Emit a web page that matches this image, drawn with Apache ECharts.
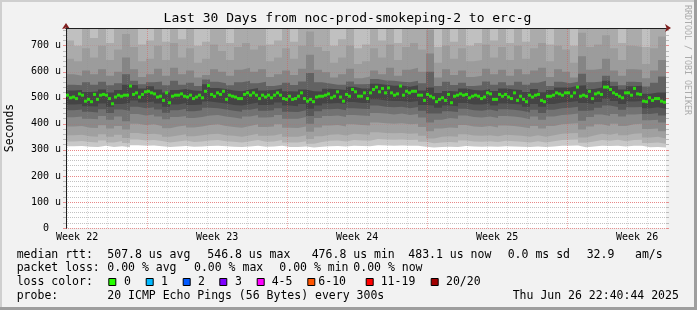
<!DOCTYPE html>
<html><head><meta charset="utf-8">
<script src="https://cdn.jsdelivr.net/npm/echarts@6/dist/echarts.min.js"></script>
<style>html,body{margin:0;padding:0;background:#f2f2f2}#c{width:697px;height:310px}</style>
</head><body><div id="c"></div>
<script>
// time axis in days since May 27 00:00
const startDay = 0.944954;   // May 27 22:40:44
const endDay = 30.944954;    // Jun 26 22:40:44
const medianStepDays = 0.15;
const smokeStepDays = 0.4;

// median rtt (us)
const median = [
510,500,503,497,515,510,487,494,485,513,
494,510,513,510,497,477,503,510,506,510,
510,545,513,519,503,513,523,525,519,515,
503,506,490,519,481,506,510,510,515,506,
503,510,497,503,510,500,525,547,513,506,
519,513,525,494,510,506,503,497,497,513,
519,510,519,510,497,510,503,510,500,510,
519,510,497,494,506,494,497,506,519,497,
487,494,485,503,506,506,510,515,500,506,
523,503,487,513,506,532,523,506,506,519,
497,519,532,541,523,536,519,538,519,510,
515,545,510,525,519,525,525,510,510,490,
513,506,500,485,494,500,490,513,481,506,
510,515,510,513,500,506,510,506,497,503,
519,515,494,494,513,506,513,503,497,519,
490,506,494,485,510,503,510,513,490,485,
506,506,510,519,515,510,519,519,506,519,
541,506,510,506,525,497,515,519,513,541,
541,532,519,513,506,500,519,519,510,536,
515,513,487,485,500,490,497,497,487,483];

// smoke band boundaries (us), one value per 0.4-day column, lowest to highest
const smokeB1 = [314,315,312,311,316,311,314,310,318,316,317,314,311,313,315,312,313,315,316,314,312,311,313,316,312,313,316,311,311,313,309,312,314,315,313,316,315,314,318,317,316,317,316,316,312,309,311,312,311,315,313,312,313,312,314,313,312,311,313,311,313,316,316,317,310,313,316,315,316,313,316,316,310,311,309];
const smokeB2 = [332,334,330,328,336,328,334,326,340,336,338,334,328,332,336,330,332,336,338,333,331,328,333,338,331,332,338,328,328,333,324,330,335,336,332,338,336,335,342,340,339,340,338,339,331,325,328,330,328,336,332,331,333,330,335,333,331,328,333,328,333,338,339,340,327,332,338,335,339,333,338,339,326,328,324];
const smokeB3 = [356,358,352,350,360,350,358,346,365,360,362,358,350,355,360,352,356,360,362,356,354,350,356,362,354,355,362,350,350,356,342,352,358,360,355,362,360,358,368,365,364,365,362,364,354,344,350,352,350,360,355,354,356,352,358,356,354,350,356,350,356,362,364,365,348,355,362,358,364,356,362,364,348,350,344];
const smokeB4 = [390,392,385,384,395,382,392,378,400,396,398,392,383,390,394,386,390,396,398,392,388,385,392,398,388,390,398,385,384,390,370,386,394,396,390,398,396,394,405,402,400,402,398,400,388,372,382,386,384,396,390,388,392,386,394,392,388,383,392,382,392,398,400,402,378,390,398,392,400,392,398,400,380,382,372];
const smokeB5 = [425,428,420,418,430,416,428,410,438,432,436,428,418,426,430,422,426,432,434,428,424,420,428,434,424,426,434,420,420,426,400,422,430,432,426,434,432,430,442,440,436,440,434,438,424,405,416,422,420,432,426,424,428,422,430,428,424,418,428,416,428,434,436,440,412,426,436,430,438,428,436,438,414,416,405];
const smokeB6 = [452,455,446,444,456,442,455,450,466,460,464,455,443,452,458,448,452,462,460,455,450,446,454,460,450,452,460,446,445,452,430,448,456,458,452,460,458,457,470,466,464,466,460,465,450,440,440,448,445,458,452,450,455,448,456,454,450,444,454,442,454,460,462,466,450,452,462,470,465,454,464,465,438,442,432];
const smokeB7 = [474,476,468,467,478,466,476,480,490,482,486,478,466,474,480,472,474,486,482,478,472,470,476,482,472,474,482,470,468,476,458,470,478,480,476,484,480,480,494,490,488,488,484,488,472,470,462,470,468,480,474,474,478,470,478,476,474,466,476,466,476,482,484,488,480,476,484,496,488,476,486,488,460,464,458];
const smokeB8 = [528,530,522,524,532,520,530,550,548,536,544,532,520,530,534,528,526,552,538,534,528,525,532,538,528,530,536,525,524,532,525,524,535,533,530,542,536,536,554,550,546,547,542,548,528,540,518,526,524,536,530,528,534,526,536,532,530,522,534,521,530,540,540,546,548,534,540,565,545,532,544,546,516,520,520];
const smokeB9 = [550,548,560,550,562,548,556,590,565,552,560,563,548,565,550,558,545,570,562,556,548,560,565,556,562,545,550,558,549,563,595,560,555,550,550,563,552,553,572,566,565,562,560,565,556,600,545,562,549,558,545,548,563,550,560,548,562,550,558,565,545,562,556,562,592,560,563,585,562,548,562,560,543,558,582];
const smokeB10 = [590,585,605,590,610,585,600,655,610,580,590,612,585,615,590,605,578,588,610,600,585,608,615,600,610,580,590,605,588,612,665,608,598,578,590,612,575,582,605,590,615,585,608,615,600,670,578,610,588,605,580,585,612,590,608,585,610,590,605,615,580,610,600,578,660,608,612,650,605,585,610,608,575,605,645];
const smokeB11 = [650,640,690,655,700,645,685,745,695,640,650,700,645,710,655,690,635,650,705,680,645,695,710,685,700,640,655,690,650,700,755,695,680,635,655,700,630,640,690,655,705,645,695,710,685,760,635,700,650,690,640,645,705,655,695,645,700,650,690,710,640,700,685,635,750,695,705,740,690,645,700,695,630,690,735];
const smokeB12 = [720,700,780,730,790,710,775,840,785,705,720,790,715,800,725,780,700,715,795,770,710,785,800,775,790,705,720,780,715,790,850,785,770,700,725,790,690,705,780,720,795,710,785,800,775,860,695,790,715,780,700,710,795,720,785,710,790,715,780,800,705,790,775,700,850,785,795,840,780,710,790,785,695,780,830];

// grid / tick positions
const yGridValues = [100,200,300,400,500,600,700];
const dayLines = [1,2,3,4,5,6,7,8,9,10,11,12,13,14,15,16,17,18,19,20,21,22,23,24,25,26,27,28,29,30];
const weekStartLines = [5,12,19,26];
const weekLabelPos = [1.5,8.5,15.5,22.5,29.5];
const weekLabels = ['Week 22','Week 23','Week 24','Week 25','Week 26'];

const titleText = 'Last 30 Days from noc-prod-smokeping-2 to erc-g';
const statRows = [
  [[16.7,'median rtt:'],[107.3,'507.8 us avg'],[207.3,'546.8 us max'],[311.7,'476.8 us min'],[408.3,'483.1 us now'],[507.7,'0.0 ms sd'],[586.7,'32.9'],[635,'am/s']],
  [[16.7,'packet loss:'],[107.3,'0.00 % avg'],[194,'0.00 % max'],[279.3,'0.00 % min'],[353.3,'0.00 % now']],
  [[16.7,'loss color:']],
  [[16.7,'probe:'],[107.3,'20 ICMP Echo Pings (56 Bytes) every 300s'],[512.7,'Thu Jun 26 22:40:44 2025']]
];
const lossLabels = ['0','1','2','3','4-5','6-10','11-19','20/20'];
const lossColors = ['#26ff00','#00b8ff','#0059ff','#7e00ff','#ff00ff','#ff5500','#ff0000','#a10000'];

// ---- layout / style ----
const rowY = [255, 268.5, 282, 296];
const lossBoxX = [108.3,145.7,182.7,219.3,256.7,307.3,365.7,430.7];
const lossTextX = [124,161,198,235,271.7,318.3,380.7,446];
const mono = '"DejaVu Sans Mono", monospace';
const smokeBounds = [smokeB1,smokeB2,smokeB3,smokeB4,smokeB5,smokeB6,smokeB7,smokeB8,smokeB9,smokeB10,smokeB11,smokeB12];
const smokeColors = ['#c8c8c8','#b2b2b2','#a0a0a0','#8a8a8a','#727272','#585858','#444444','#626262','#858585','#9c9c9c','#ababab','#c0c0c0'];
const GRID = 'rgba(143,143,143,0.55)';
const MGRID = 'rgba(222,79,79,0.6)';
const GRID_ON = 'rgba(143,143,143,0.3)';
const MGRID_ON = 'rgba(222,79,79,0.18)';
const MGRID_V = 'rgba(222,79,79,0.45)';

const chart = echarts.init(document.getElementById('c'), null, {renderer:'canvas', width:697, height:310});

const smokeSeries = smokeBounds.map((arr, k) => ({
  type:'line', xAxisIndex:0, yAxisIndex:0, step:'end', symbol:'none', showSymbol:false,
  silent:true, z:1, lineStyle:{width:0},
  areaStyle:{origin:'end', color:smokeColors[k], opacity:1},
  data: arr.map((v, c) => [startDay + c * smokeStepDays, v]).concat([[endDay, arr[arr.length - 1]]])
}));

const gridLineSeries = {
  type:'line', xAxisIndex:0, yAxisIndex:0, data:[], z:4, silent:true,
  markLine:{
    silent:true, z:4, symbol:['none','none'], label:{show:false}, animation:false,
    data: dayLines.filter(d => weekStartLines.indexOf(d) < 0)
      .map(d => ({xAxis:d, lineStyle:{color:GRID_ON, type:[1,1], width:1}}))
      .concat(weekStartLines.map(d => ({xAxis:d, lineStyle:{color:MGRID_V, type:[1,1], width:1}})))
      .concat(yGridValues.map(v => ({yAxis:v, lineStyle:{color:MGRID_ON, type:[1,1], width:1}})))
  }
};

const medianSeries = {
  type:'scatter', xAxisIndex:0, yAxisIndex:0, symbol:'rect', symbolSize:[3,3], z:10, silent:true,
  itemStyle:{color:'#26ff00'},
  data: median.map((v, i) => [startDay + (i + 0.5) * medianStepDays, v])
};

const graphics = [
  {type:'rect', shape:{x:0,y:0,width:697,height:2}, style:{fill:'#cfcfcf'}, silent:true},
  {type:'rect', shape:{x:0,y:0,width:2,height:310}, style:{fill:'#cfcfcf'}, silent:true},
  {type:'rect', shape:{x:0,y:307,width:697,height:3}, style:{fill:'#9e9e9e'}, silent:true},
  {type:'rect', shape:{x:694,y:0,width:3,height:310}, style:{fill:'#9e9e9e'}, silent:true},
  {type:'text', x:347.5, y:19, silent:true, style:{text:titleText, font:'13px ' + mono, fill:'#000', align:'center', verticalAlign:'middle', textAlign:'center', textVerticalAlign:'middle'}},
  {type:'text', x:10, y:128, rotation:Math.PI/2, silent:true, style:{text:'Seconds', font:'11.5px ' + mono, fill:'#000', align:'center', verticalAlign:'middle', textAlign:'center', textVerticalAlign:'middle'}},
  {type:'text', x:687.5, y:60, rotation:-Math.PI/2, silent:true, style:{text:'RRDTOOL / TOBI OETIKER', font:'8.3px ' + mono, fill:'#ababab', align:'center', verticalAlign:'middle', textAlign:'center', textVerticalAlign:'middle'}}
];
statRows.forEach((row, r) => row.forEach(([x, t]) => graphics.push(
  {type:'text', x:x, y:rowY[r], silent:true, style:{text:t, font:'11.5px ' + mono, fill:'#000', align:'left', verticalAlign:'middle', textAlign:'left', textVerticalAlign:'middle'}})));
lossLabels.forEach((t, k) => {
  graphics.push({type:'rect', silent:true, shape:{x:lossBoxX[k] + 0.5, y:278.5, width:7, height:7}, style:{fill:lossColors[k], stroke:'#000', lineWidth:1}});
  graphics.push({type:'text', x:lossTextX[k], y:rowY[2], silent:true, style:{text:t, font:'11.5px ' + mono, fill:'#000', align:'left', verticalAlign:'middle', textAlign:'left', textVerticalAlign:'middle'}});
});

const plainAxis = {axisTick:{show:false}, axisLabel:{show:false}, splitLine:{show:false}};
const option = {
  animation:false,
  backgroundColor:'#f2f2f2',
  grid:{left:66, width:600, top:28, height:200, show:true, backgroundColor:'#ffffff', borderWidth:0},
  xAxis:[
    {type:'value', min:startDay, max:endDay, z:0,
     axisLine:{show:false},
     axisTick:{show:false}, splitLine:{show:false},
     axisLabel:{show:true, customValues:weekLabelPos, margin:4, fontFamily:mono, fontSize:10, color:'#000',
       formatter: v => { const k = weekLabelPos.findIndex(p => Math.abs(p - v) < 1e-6); return k >= 0 ? weekLabels[k] : ''; }}},
    Object.assign({type:'value', min:startDay, max:endDay, z:5,
     axisLine:{show:true, onZero:false, symbol:['none','arrow'], symbolSize:[6,6], symbolOffset:[0,5], lineStyle:{color:'#801f1f', width:1}}}, plainAxis),
    Object.assign({type:'value', min:startDay, max:endDay, z:6,
     axisLine:{show:true, onZero:false, lineStyle:{color:'#1f1f1f', width:1}}}, plainAxis)
  ],
  yAxis:[
    {type:'value', min:0, max:768, interval:100, z:0,
     axisLine:{show:false},
     axisTick:{show:true, length:3, lineStyle:{color:MGRID}},
     minorTick:{show:true, splitNumber:5, length:3, lineStyle:{color:GRID}},
     splitLine:{show:true, showMaxLine:false, lineStyle:{color:MGRID, type:[1,1], width:1}},
     minorSplitLine:{show:true, lineStyle:{color:GRID, type:[1,1], width:1}},
     axisLabel:{showMaxLabel:false, margin:5, fontFamily:mono, fontSize:10, color:'#000',
       formatter: v => v === 0 ? '0  ' : v + ' u'}},
    {type:'value', min:0, max:768, interval:100, position:'right', z:0,
     axisLine:{show:false}, axisLabel:{show:false}, splitLine:{show:false},
     axisTick:{show:true, length:3, lineStyle:{color:MGRID}},
     minorTick:{show:true, splitNumber:5, length:3, lineStyle:{color:GRID}}},
    Object.assign({type:'value', min:0, max:768, interval:100, position:'left', z:5,
     axisLine:{show:true, onZero:false, symbol:['none','arrow'], symbolSize:[6,6], symbolOffset:[0,5], lineStyle:{color:'#801f1f', width:1}}}, plainAxis),
    Object.assign({type:'value', min:0, max:768, interval:100, position:'left', z:6,
     axisLine:{show:true, onZero:false, lineStyle:{color:'#1f1f1f', width:1}}}, plainAxis)
  ],
  series: smokeSeries.concat([gridLineSeries, medianSeries]),
  graphic: graphics
};
chart.setOption(option);
</script>
</body></html>
